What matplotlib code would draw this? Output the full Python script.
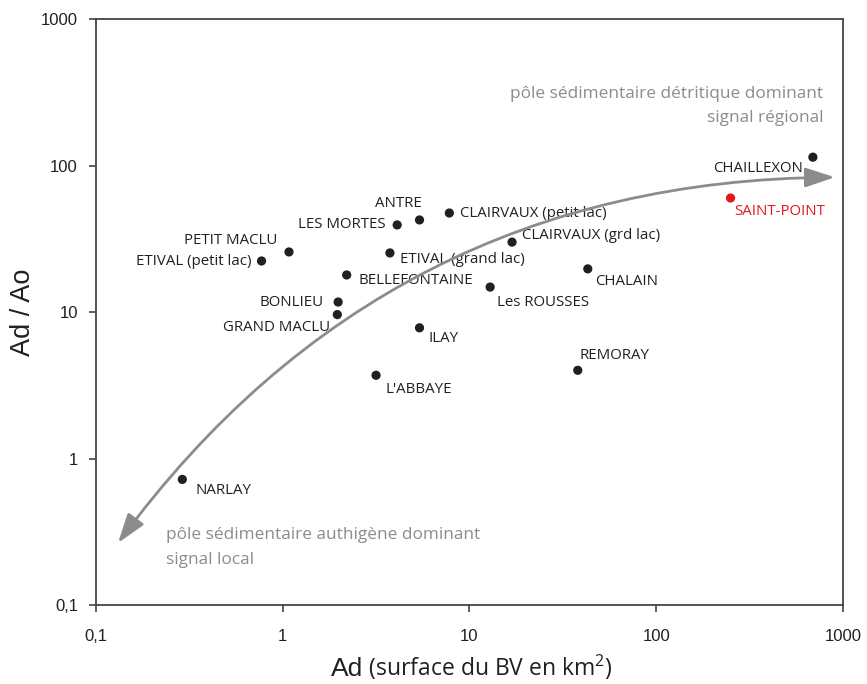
import matplotlib
matplotlib.use("Agg")
import matplotlib.pyplot as plt
from matplotlib.offsetbox import TextArea, HPacker, AnchoredOffsetbox
from matplotlib.ticker import FixedLocator, FixedFormatter, NullLocator

plt.rcParams['font.family'] = ['Open Sans', 'DejaVu Sans']
plt.rcParams['mathtext.fontset'] = 'custom'
plt.rcParams['mathtext.rm'] = 'Open Sans'
plt.rcParams['mathtext.it'] = 'Open Sans'

# lakes: catchment surface Ad (km2) and ratio Ad/Ao
lakes = ["NARLAY", "ETIVAL (petit lac)", "PETIT MACLU", "BELLEFONTAINE", "BONLIEU",
         "GRAND MACLU", "LES MORTES", "ANTRE", "ETIVAL (grand lac)", "ILAY", "L'ABBAYE",
         "CLAIRVAUX (petit lac)", "CLAIRVAUX (grd lac)", "Les ROUSSES", "CHALAIN",
         "REMORAY", "CHAILLEXON", "SAINT-POINT"]
ad = [0.29, 0.77, 1.08, 2.2, 1.98, 1.96, 4.1, 5.4, 3.75, 5.4, 3.16,
      7.8, 16.9, 12.9, 43, 38, 690, 250]
ad_ao = [0.72, 22.3, 25.7, 17.9, 11.7, 9.6, 39.3, 42.5, 25.3, 7.8, 3.7,
         47.4, 30, 14.8, 19.7, 4.0, 114, 60]

ticks = [0.1, 1, 10, 100, 1000]
tick_labels = ["0,1", "1", "10", "100", "1000"]

# label placement (offset in points, horizontal alignment)
label_pos = {
    "NARLAY": (9.4, -7.9, "left"),
    "ETIVAL (petit lac)": (-7.2, -0.5, "right"),
    "PETIT MACLU": (-8, 8.6, "right"),
    "BELLEFONTAINE": (8.6, -4.3, "left"),
    "BONLIEU": (-10.8, 0, "right"),
    "GRAND MACLU": (-5, -9.4, "right"),
    "LES MORTES": (-8.6, 0, "right"),
    "ANTRE": (1.4, 12.2, "right"),
    "ETIVAL (grand lac)": (7.2, -5, "left"),
    "ILAY": (6.5, -8, "left"),
    "L'ABBAYE": (6.5, -10, "left"),
    "CLAIRVAUX (petit lac)": (8, 0, "left"),
    "CLAIRVAUX (grd lac)": (7.2, 5, "left"),
    "Les ROUSSES": (5, -10.8, "left"),
    "CHALAIN": (5, -9.4, "left"),
    "REMORAY": (1.4, 10.8, "left"),
    "CHAILLEXON": (-7.2, -8, "right"),
    "SAINT-POINT": (2.9, -10, "left"),
}

black = "#231f20"
grey = "#8c8c8c"
red = "#e3181e"

fig = plt.figure(figsize=(8.67, 6.84), dpi=100)
ax = fig.add_axes([0.1107, 0.1155, 0.8616, 0.8567])
ax.set_xscale("log")
ax.set_yscale("log")
ax.set_xlim(0.1, 1000)
ax.set_ylim(0.1, 1000)

colors = [red if n == "SAINT-POINT" else black for n in lakes]
ax.scatter(ad, ad_ao, s=44, c=colors, zorder=3, linewidths=0)

for name, x, y, c in zip(lakes, ad, ad_ao, colors):
    dx, dy, ha = label_pos[name]
    ax.annotate(name, (x, y), xytext=(dx, dy), textcoords="offset points",
                ha=ha, va="center", fontsize=10.8, color=c)

# curved double arrow
ax.annotate("", xy=(0.989, 0.730), xycoords="axes fraction",
            xytext=(0.0295, 0.1058), textcoords="axes fraction",
            arrowprops=dict(arrowstyle="<|-|>,head_length=0.9,head_width=0.3",
                            connectionstyle="arc3,rad=-0.25", color=grey,
                            lw=2, mutation_scale=20, shrinkA=0, shrinkB=0))

ax.text(0.974, 0.872, "pôle sédimentaire détritique dominant", transform=ax.transAxes,
        ha="right", va="center", fontsize=12.4, color=grey)
ax.text(0.974, 0.831, "signal régional", transform=ax.transAxes,
        ha="right", va="center", fontsize=12.4, color=grey)
ax.text(0.094, 0.119, "pôle sédimentaire authigène dominant", transform=ax.transAxes,
        ha="left", va="center", fontsize=12.4, color=grey)
ax.text(0.094, 0.077, "signal local", transform=ax.transAxes,
        ha="left", va="center", fontsize=12.4, color=grey)

for a in (ax.xaxis, ax.yaxis):
    a.set_major_locator(FixedLocator(ticks))
    a.set_major_formatter(FixedFormatter(tick_labels))
    a.set_minor_locator(NullLocator())
ax.tick_params(axis="both", length=5, width=1.2, color="#444444",
               labelsize=12, labelcolor=black)
ax.tick_params(axis="x", pad=12)
ax.tick_params(axis="y", pad=8)
for lab in ax.get_xticklabels() + ax.get_yticklabels():
    lab.set_family(["Liberation Sans", "DejaVu Sans"])
for sp in ax.spines.values():
    sp.set_color("#444444")
    sp.set_linewidth(1.3)

fig.text(0.027, 0.544, "Ad / Ao", rotation=90, ha="center", va="center",
         fontsize=19.5, color=black, family=["Liberation Sans", "DejaVu Sans"])

xl_big = TextArea("Ad", textprops=dict(size=19, color=black,
                                       family=["Liberation Sans", "DejaVu Sans"]))
xl_small = TextArea(" (surface du BV en km$^{2}$)", textprops=dict(size=16.5, color=black))
box = HPacker(children=[xl_big, xl_small], align="baseline", pad=0, sep=0)
anch = AnchoredOffsetbox(loc="center", child=box, pad=0, frameon=False, borderpad=0,
                         bbox_to_anchor=(0.544, 0.024), bbox_transform=fig.transFigure)
fig.add_artist(anch)

fig.savefig("out.png", dpi=100)
